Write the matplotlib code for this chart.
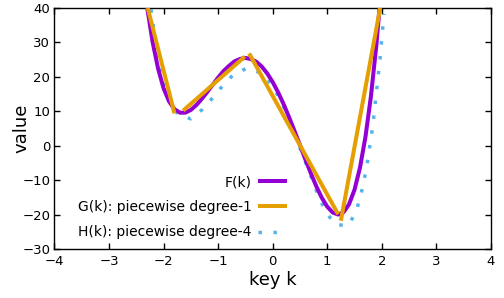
#!/usr/bin/env python3.12
"""Recreate the F/G/H approximation chart (gnuplot look) with matplotlib."""

import matplotlib

matplotlib.use("Agg")
import matplotlib.pyplot as plt

# ── Data ───────────────────────────────────────────────────────────
# F(k): the original function, sampled every 0.1
f_k = [-2.4, -2.3, -2.2, -2.1, -2.0, -1.9, -1.8, -1.7, -1.6, -1.5, -1.4,
       -1.3, -1.2, -1.1, -1.0, -0.9, -0.8, -0.7, -0.6, -0.5, -0.4, -0.3,
       -0.2, -0.1, 0.0, 0.1, 0.2, 0.3, 0.4, 0.5, 0.6, 0.7, 0.8, 0.9, 1.0,
       1.1, 1.2, 1.3, 1.4, 1.5, 1.6, 1.7, 1.8, 1.9, 2.0]
f_v = [52.9, 40.1, 30.1, 22.4, 16.7, 12.9, 10.6, 9.6, 9.6, 10.4, 11.8,
       13.6, 15.6, 17.7, 19.8, 21.7, 23.2, 24.5, 25.2, 25.5, 25.2, 24.4,
       23.0, 21.0, 18.5, 15.5, 12.1, 8.3, 4.3, 0.2, -4.0, -8.0, -11.8,
       -15.1, -17.7, -19.4, -20.0, -19.3, -17.0, -12.8, -6.4, 2.5, 14.2,
       29.1, 47.5]

# G(k): piecewise degree-1, four separate segments (start, end)
g_k = [(-2.29, -1.80), (-1.64, -0.51), (-0.43, 1.20), (1.25, 1.97)]
g_v = [(40.0, 9.4), (10.2, 25.9), (26.8, -19.9), (-21.8, 40.0)]

# H(k): piecewise degree-4
h_k = [-2.231, -2.189, -2.145, -2.098, -2.048, -1.976, -1.878, -1.749,
       -1.504, -1.284, -1.100, -0.917, -0.723, -0.477, -0.221, -0.019,
       0.120, 0.243, 0.347, 0.450, 0.549, 0.652, 0.756, 0.853, 0.982,
       1.141, 1.380, 1.521, 1.605, 1.667, 1.722, 1.764, 1.806, 1.843,
       1.874, 1.905, 1.935, 1.966, 1.990, 2.015, 2.039]
h_v = [39.6, 35.2, 30.7, 26.3, 21.9, 17.5, 13.3, 9.4, 7.8, 10.6, 13.9,
       17.4, 20.6, 22.5, 21.2, 17.8, 13.9, 9.9, 5.7, 1.5, -2.7, -6.8,
       -11.1, -15.3, -19.3, -22.9, -23.2, -19.5, -15.1, -10.7, -6.3, -1.8,
       2.5, 7.0, 11.4, 16.0, 20.5, 24.9, 29.3, 33.8, 38.3]

x_ticks = [-4, -3, -2, -1, 0, 1, 2, 3, 4]
y_ticks = [-30, -20, -10, 0, 10, 20, 30, 40]

PURPLE = "#9400d3"
ORANGE = "#e69f00"
BLUE = "#56b4e9"

plt.rcParams["font.family"] = ["DejaVu Sans"]

fig = plt.figure(figsize=(5.04, 2.98), dpi=100)
ax = fig.add_axes([0.108, 0.1644, 0.866, 0.8087])

ax.plot(f_k, f_v, color=PURPLE, linewidth=2.9, label="F(k)",
        solid_capstyle="butt", zorder=3)

for i, (ks, vs) in enumerate(zip(g_k, g_v)):
    ax.plot(ks, vs, color=ORANGE, linewidth=2.9, solid_capstyle="butt",
            label="G(k): piecewise degree-1" if i == 0 else None, zorder=4)

ax.plot(h_k, h_v, color=BLUE, linewidth=2.5, linestyle=(0, (1, 3.3)),
        dash_capstyle="butt", label="H(k): piecewise degree-4", zorder=2)

ax.set_xlim(-4, 4)
ax.set_ylim(-30, 40)
ax.set_xticks(x_ticks)
ax.set_yticks(y_ticks)
ax.tick_params(direction="in", top=True, right=True, length=4, width=1,
               labelsize=9.5, color="black")
ax.tick_params(axis="x", pad=4)
ax.tick_params(axis="y", pad=3)
for s in ax.spines.values():
    s.set_linewidth(1.0)

ax.set_xlabel("key k", fontsize=13)
ax.set_ylabel("value", fontsize=13)
ax.xaxis.set_label_coords(0.5, -0.093)
ax.yaxis.set_label_coords(-0.054, 0.5)

ax.legend(loc="lower right", bbox_to_anchor=(0.533, 0.04), frameon=False,
          markerfirst=False, fontsize=10, handlelength=2.1,
          handletextpad=0.45, labelspacing=0.8, borderpad=0,
          borderaxespad=0)

fig.savefig("out.png", dpi=100)
